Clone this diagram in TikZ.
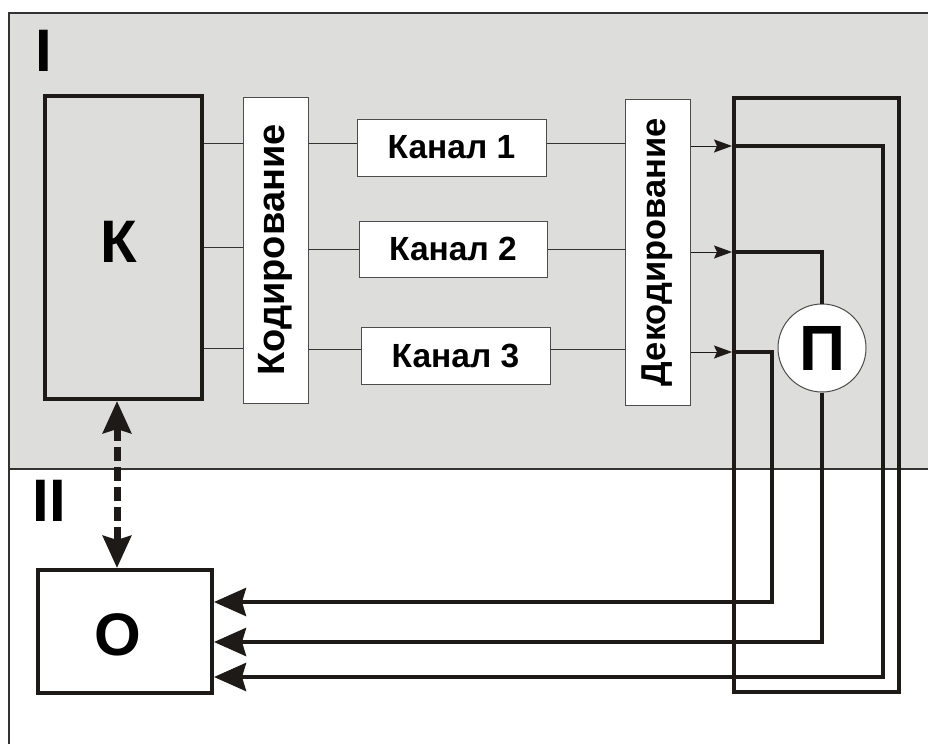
\documentclass[tikz,border=0pt]{standalone}
\usepackage{fontspec}
\setmainfont{Liberation Sans}
\usetikzlibrary{arrows.meta,positioning,calc}
\definecolor{panelgray}{RGB}{221,221,220}
\definecolor{inkdark}{RGB}{30,26,24}

\begin{document}
\begin{tikzpicture}[
    x=1pt, y=-1pt,
    font=\bfseries,
    thickbox/.style={draw=inkdark, line width=4pt, inner sep=0pt},
    thinbox/.style={draw=black!70, line width=1pt, fill=white, inner sep=0pt},
    frameline/.style={draw=black!80, line width=1.6pt},
    wire/.style={draw=black!80, line width=1pt},
    thinarr/.style={-{Stealth[length=18pt,width=13pt,inset=3pt]}, draw=inkdark, line width=1pt},
    bus/.style={draw=inkdark, line width=4.5pt},
    bigarr/.style={-{Stealth[length=32pt,width=28pt,inset=4pt]}, draw=inkdark, line width=4.5pt},
    dasharr/.style={{Stealth[length=32pt,width=28pt,inset=4pt]}-{Stealth[length=32pt,width=28pt,inset=4pt]},
                    draw=inkdark, line width=7pt, dash pattern=on 14pt off 6pt},
    bigfont/.style={font=\fontsize{60}{60}\selectfont\bfseries},
    kodfont/.style={font=\fontsize{38}{38}\selectfont\bfseries},
    dekfont/.style={font=\fontsize{34.5}{35}\selectfont\bfseries},
    chanfont/.style={font=\fontsize{33.5}{34}\selectfont\bfseries}
]
\useasboundingbox (0,0) rectangle (928,744);

%% Zones
\fill[panelgray] (9,13) rectangle (928,469);
\draw[frameline] (928,13) -- (9,13) -- (9,744);
\draw[frameline] (9,469) -- (928,469);
\node[bigfont, inner sep=0pt] (zone1) at (43.5,50.5) {I};
\node[bigfont, inner sep=0pt] (zone2) at (49.5,500.5) {II};

%% Source
\node[thickbox, minimum width=157pt, minimum height=303pt] (kbox) at (123.5,247.5) {};
\node[bigfont, inner sep=0pt] (klabel) at (118.5,241.5) {К};

%% Coding
\node[thinbox, minimum width=65pt, minimum height=306pt] (kod) at (275.5,250) {};
\node[kodfont, rotate=90] at (kod) {Кодирование};

%% Channels
\node[thinbox, chanfont, minimum width=189pt, minimum height=57pt] (ch1) at (451.5,147.5) {Канал 1};
\node[thinbox, chanfont, minimum width=188pt, minimum height=56pt] (ch2) at (453,249) {Канал 2};
\node[thinbox, chanfont, minimum width=189pt, minimum height=57pt] (ch3) at (455.5,355.5) {Канал 3};

%% Decoding
\node[thinbox, minimum width=65pt, minimum height=306pt] (dek) at (657.5,252) {};
\node[dekfont, rotate=90] at (dek) {Декодирование};

%% Receiver frame and switch
\node[thickbox, minimum width=165pt, minimum height=594pt] (pbox) at (816.5,395) {};
\node[circle, draw=black!70, line width=1pt, fill=white, minimum size=88pt, inner sep=0pt,
      font=\fontsize{64}{64}\selectfont\bfseries] (sw) at (822,348) {П};

%% Observer
\node[thickbox, fill=white, minimum width=174pt, minimum height=123pt] (obox) at (125,631.5) {};
\node[bigfont, inner sep=0pt] (olabel) at (118,634.5) {О};

%% Wires K -> coding -> channels -> decoding
\draw[wire] ([yshift=4.5pt]kbox.east |- ch1) -- ([yshift=4.5pt]kod.west |- ch1);
\draw[wire] ([yshift=2pt]kbox.east |- ch2) -- ([yshift=2pt]kod.west |- ch2);
\draw[wire] ([yshift=7pt]kbox.east |- ch3) -- ([yshift=7pt]kod.west |- ch3);
\draw[wire] ([yshift=4.5pt]kod.east |- ch1) -- ([yshift=4.5pt]ch1.west);
\draw[wire] (kod.east |- ch2) -- (ch2.west);
\draw[wire] ([yshift=6.5pt]kod.east |- ch3) -- ([yshift=6.5pt]ch3.west);
\draw[wire] ([yshift=4.5pt]ch1.east) -- ([yshift=4.5pt]dek.west |- ch1);
\draw[wire] (ch2.east) -- (dek.west |- ch2);
\draw[wire] ([yshift=6.5pt]ch3.east) -- ([yshift=6.5pt]dek.west |- ch3);

%% Inputs of the receiver
\coordinate (in1) at (pbox.west |- 0,146);
\coordinate (in2) at (pbox.west |- 0,252);
\coordinate (in3) at (pbox.west |- 0,352);
\draw[thinarr] (dek.east |- in1) -- (in1);
\draw[thinarr] (dek.east |- in2) -- (in2);
\draw[thinarr] (dek.east |- in3) -- (in3);

%% Lines to the observer
\coordinate (t1) at (883,677);
\coordinate (t2) at (sw.south |- 0,642);
\coordinate (t3) at (772,602);
\draw[bigarr] (in1) -| (t1) -- (obox.east |- t1);
\draw[bus] (in2) -| (sw.north);
\draw[bigarr] (sw.south) -- (t2) -- (obox.east |- t2);
\draw[bigarr] (in3) -| (t3) -- (obox.east |- t3);

%% Feedback
\draw[dasharr] ([xshift=-6.5pt]kbox.south) -- ([xshift=-6.5pt]kbox.south |- obox.north);

\end{tikzpicture}
\end{document}
